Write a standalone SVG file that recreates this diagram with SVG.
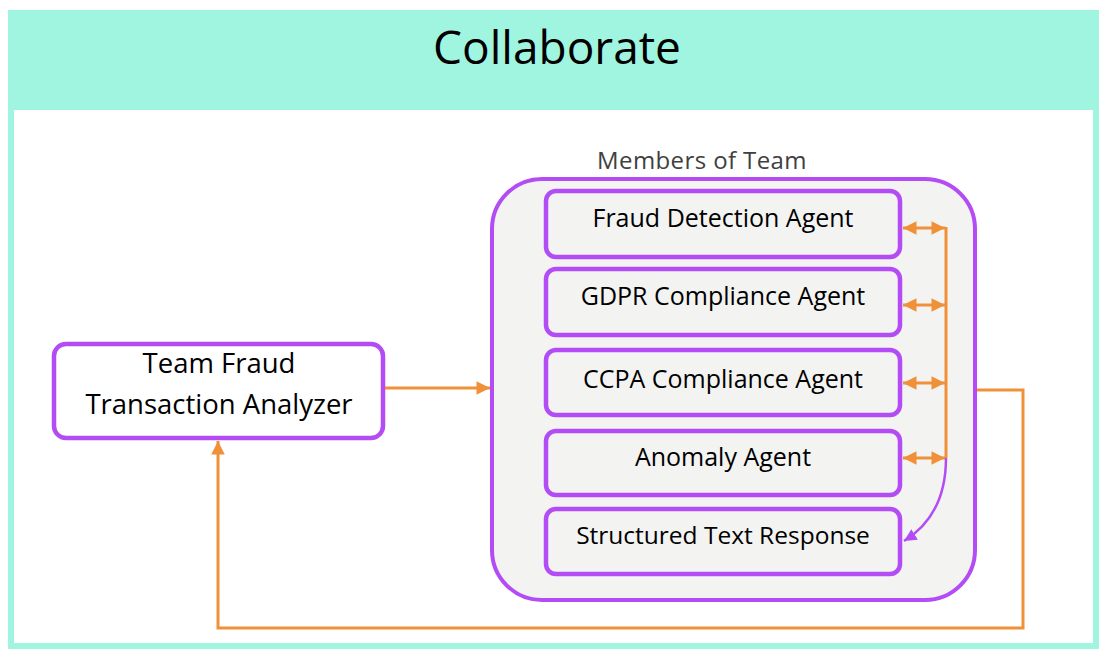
<svg xmlns="http://www.w3.org/2000/svg" width="1106" height="656" viewBox="0 0 1106 656">
<style>
.t{font-family:"Open Sans","Noto Sans","Liberation Sans",sans-serif;fill:#000;text-anchor:middle}
.box{fill:#f3f3f2;stroke:#b44cf6;stroke-width:4.5}
.or{fill:none;stroke:#f0913a;stroke-width:3}
</style>
<defs>
<marker id="ah" viewBox="0 0 10 10" refX="10" refY="5" markerWidth="5" markerHeight="4.5" markerUnits="strokeWidth" orient="auto-start-reverse">
<path d="M0,0 L10,5 L0,10 z" fill="#f0913a"/>
</marker>
<marker id="ahp" viewBox="0 0 10 10" refX="10" refY="5" markerWidth="5" markerHeight="5" markerUnits="strokeWidth" orient="auto">
<path d="M0,0 L10,5 L0,10 z" fill="#b44cf6"/>
</marker>
</defs>
<rect width="1106" height="656" fill="#fff"/>
<g id="frame">
<rect x="11" y="13" width="1085" height="633" fill="#fff" stroke="#a0f5e1" stroke-width="6"/>
<rect x="8" y="10" width="1091" height="100" fill="#a0f5e1"/>
<text class="t" x="557" y="64" font-size="46">Collaborate</text>
</g>
<g id="team">
<rect x="492" y="179" width="483" height="421" rx="50" fill="#f3f3f2" stroke="#b44cf6" stroke-width="4"/>
<text class="t" x="702" y="169" font-size="24" letter-spacing="0.4" style="fill:#404040">Members of Team</text>
</g>
<g id="analyzer">
<rect x="54" y="344" width="329" height="94" rx="12" fill="#fff" stroke="#b44cf6" stroke-width="4.5"/>
<text class="t" x="219" y="373" font-size="27.5">Team Fraud</text>
<text class="t" x="219" y="414" font-size="27.5">Transaction Analyzer</text>
</g>
<g id="fraud">
<rect class="box" x="546" y="191" width="354" height="66" rx="10"/>
<text class="t" x="723" y="227" font-size="25">Fraud Detection Agent</text>
</g>
<g id="gdpr">
<rect class="box" x="546" y="269" width="354" height="66" rx="10"/>
<text class="t" x="723" y="305" font-size="25">GDPR Compliance Agent</text>
</g>
<g id="ccpa">
<rect class="box" x="546" y="350" width="354" height="65" rx="10"/>
<text class="t" x="723" y="388" font-size="25">CCPA Compliance Agent</text>
</g>
<g id="anomaly">
<rect class="box" x="546" y="431" width="354" height="64" rx="10"/>
<text class="t" x="723" y="466" font-size="25">Anomaly Agent</text>
</g>
<g id="structured">
<rect class="box" x="546" y="509" width="354" height="65" rx="10"/>
<text class="t" x="723" y="544" font-size="24.5">Structured Text Response</text>
</g>
<g id="connectors">
<line class="or" x1="385" y1="388" x2="490" y2="388" marker-end="url(#ah)"/>
<polyline class="or" points="977,390 1023,390 1023,628 218,628 218,441" marker-end="url(#ah)"/>
<line class="or" x1="946" y1="227" x2="946" y2="458"/>
<line class="or" x1="945" y1="228" x2="903" y2="228" marker-start="url(#ah)" marker-end="url(#ah)"/>
<line class="or" x1="945" y1="305" x2="903" y2="305" marker-start="url(#ah)" marker-end="url(#ah)"/>
<line class="or" x1="945" y1="383" x2="903" y2="383" marker-start="url(#ah)" marker-end="url(#ah)"/>
<line class="or" x1="945" y1="458" x2="903" y2="458" marker-start="url(#ah)" marker-end="url(#ah)"/>
<path d="M946,458 C946,500 930,525 904,541" fill="none" stroke="#b44cf6" stroke-width="2.5" marker-end="url(#ahp)"/>
</g>
</svg>
